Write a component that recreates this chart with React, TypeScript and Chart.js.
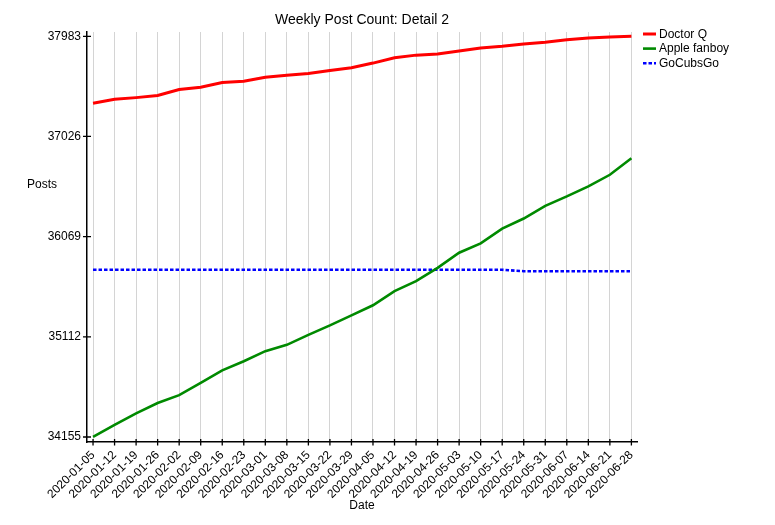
import { useEffect, useRef } from 'react'
import { Chart, registerables } from 'chart.js'

Chart.register(...registerables)

const dates = [
  '2020-01-05', '2020-01-12', '2020-01-19', '2020-01-26', '2020-02-02', '2020-02-09',
  '2020-02-16', '2020-02-23', '2020-03-01', '2020-03-08', '2020-03-15', '2020-03-22',
  '2020-03-29', '2020-04-05', '2020-04-12', '2020-04-19', '2020-04-26', '2020-05-03',
  '2020-05-10', '2020-05-17', '2020-05-24', '2020-05-31', '2020-06-07', '2020-06-14',
  '2020-06-21', '2020-06-28',
]

const doctorQ = [
  37343, 37381, 37397, 37417, 37474, 37496, 37541, 37554, 37592, 37611, 37628, 37657, 37682,
  37727, 37778, 37803, 37813, 37842, 37871, 37887, 37909, 37925, 37950, 37967, 37976, 37983,
]

const appleFanboy = [
  34155, 34270, 34380, 34479, 34555, 34673, 34792, 34879, 34975, 35035, 35131, 35221, 35317,
  35413, 35549, 35643, 35771, 35915, 36005, 36146, 36242, 36363, 36453, 36549, 36660, 36818,
]

const goCubsGo = [
  35752, 35752, 35752, 35752, 35752, 35752, 35752, 35752, 35752, 35752, 35752, 35752, 35752,
  35752, 35752, 35752, 35752, 35752, 35752, 35752, 35739, 35739, 35739, 35739, 35739, 35739,
]

const yTicks = [34155, 35112, 36069, 37026, 37983]

const FONT = '"Liberation Sans", Arial, Helvetica, sans-serif'

const series = [
  { label: 'Doctor Q', data: doctorQ, color: '#ff0000', width: 3, dash: [] as number[] },
  { label: 'Apple fanboy', data: appleFanboy, color: '#008a00', width: 2.6, dash: [] as number[] },
  { label: 'GoCubsGo', data: goCubsGo, color: '#0000ff', width: 2.6, dash: [3.5, 2] },
]

// titles, legend and crossing tick marks drawn by hand
const extras = {
  id: 'extras',
  afterDraw(chart: Chart) {
    const ctx = chart.ctx
    const area = chart.chartArea
    const xs = chart.scales.x
    const ys = chart.scales.y
    ctx.save()
    ctx.strokeStyle = '#000'
    ctx.lineWidth = 1.3
    ctx.beginPath()
    for (const v of yTicks) {
      const y = ys.getPixelForValue(v)
      ctx.moveTo(area.left - 4, y)
      ctx.lineTo(area.left + 4, y)
    }
    dates.forEach((_, i) => {
      const x = xs.getPixelForValue(i)
      ctx.moveTo(x, area.bottom - 3)
      ctx.lineTo(x, area.bottom + 3.5)
    })
    ctx.stroke()

    ctx.fillStyle = '#000'
    ctx.textAlign = 'center'
    ctx.textBaseline = 'middle'
    ctx.font = `14px ${FONT}`
    ctx.fillText('Weekly Post Count: Detail 2', (area.left + area.right) / 2, 20)
    ctx.font = `12px ${FONT}`
    ctx.fillText('Date', (area.left + area.right) / 2, 506)
    ctx.fillText('Posts', 42, 185)

    ctx.textAlign = 'left'
    series.forEach((s, i) => {
      const y = 34 + i * 14.6
      ctx.strokeStyle = s.color
      ctx.lineWidth = s.width
      ctx.setLineDash(s.dash)
      ctx.beginPath()
      ctx.moveTo(643, y)
      ctx.lineTo(656, y)
      ctx.stroke()
      ctx.setLineDash([])
      ctx.fillStyle = '#000'
      ctx.fillText(s.label, 659, y + 0.5)
    })
    ctx.restore()
  },
}

export default function App() {
  const canvasRef = useRef<HTMLCanvasElement>(null)
  const chartRef = useRef<Chart | null>(null)

  useEffect(() => {
    if (!canvasRef.current) return
    if (chartRef.current) chartRef.current.destroy()
    Chart.defaults.font.family = FONT
    Chart.defaults.font.size = 12
    Chart.defaults.color = '#000'

    chartRef.current = new Chart(canvasRef.current, {
      type: 'line',
      data: {
        datasets: series.map((s) => ({
          label: s.label,
          data: s.data.map((v, i) => ({ x: i, y: v })),
          borderColor: s.color,
          backgroundColor: s.color,
          borderWidth: s.width,
          borderDash: s.dash,
          pointRadius: 0,
          tension: 0,
        })),
      },
      options: {
        animation: false,
        responsive: true,
        maintainAspectRatio: false,
        layout: { padding: { top: 32, right: 138, left: 0, bottom: 0 } },
        plugins: {
          legend: { display: false },
          title: { display: false },
          tooltip: { enabled: false },
        },
        scales: {
          x: {
            type: 'linear',
            min: -0.28,
            max: 25.26,
            afterBuildTicks: (scale: any) => {
              scale.ticks = dates.map((_, i) => ({ value: i }))
            },
            afterFit: (scale: any) => {
              scale.height = 83
            },
            ticks: {
              autoSkip: false,
              maxRotation: 45,
              minRotation: 45,
              padding: 6,
              callback: (v: any) => dates[v] ?? '',
            },
            grid: { color: '#d4d4d4', lineWidth: 1, drawTicks: false },
            border: { color: '#000', width: 1.5 },
          },
          y: {
            type: 'linear',
            min: 34107,
            max: 38024,
            afterBuildTicks: (scale: any) => {
              scale.ticks = yTicks.map((v) => ({ value: v }))
            },
            afterFit: (scale: any) => {
              scale.width = 87
            },
            ticks: { padding: 6, callback: (v: any) => String(v) },
            grid: { drawOnChartArea: false, drawTicks: false },
            border: { color: '#000', width: 1.5 },
          },
        },
      },
      plugins: [extras],
    })

    return () => { chartRef.current?.destroy() }
  }, [])

  return (
    <div style={{ position: 'absolute', left: 0, top: 0, width: 775, height: 525, background: '#fff' }}>
      <canvas ref={canvasRef} />
    </div>
  )
}
